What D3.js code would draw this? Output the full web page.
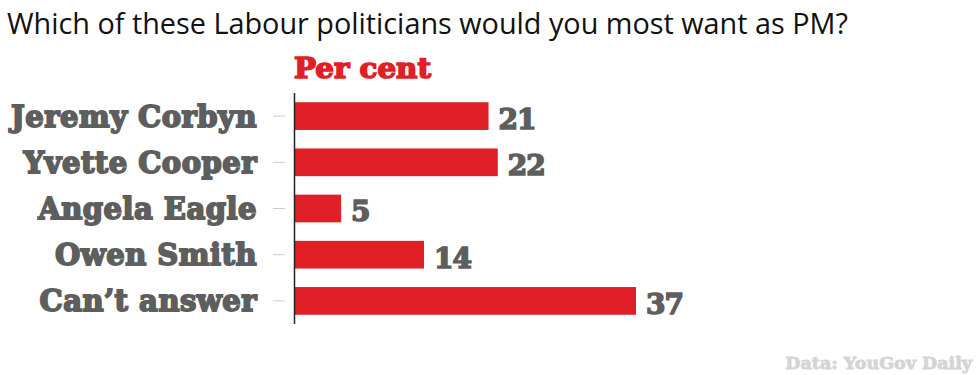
<!DOCTYPE html>
<html>
<head>
<meta charset="utf-8">
<script src="https://cdn.jsdelivr.net/npm/d3@7"></script>
<style>
  body { margin: 0; background: #fff; }
  .slab { font-family: "DejaVu Serif", serif; font-weight: bold; }
</style>
</head>
<body>
<div id="chart"></div>
<script>
var width = 980;
var height = 375;

var names = ["Jeremy Corbyn", "Yvette Cooper", "Angela Eagle", "Owen Smith", "Can\u2019t answer"];
var values = [21, 22, 5, 14, 37];

var red = "#e01f26";
var grey = "#5e5e5e";

var svg = d3.select("#chart")
    .append("svg")
        .attr("width", width)
        .attr("height", height);

// title
svg.append("text")
    .attr("x", 7)
    .attr("y", 34)
    .style("font-family", "'Open Sans', sans-serif")
    .style("font-size", "28.8px")
    .style("fill", "#111")
    .text("Which of these Labour politicians would you most want as PM?");

var xscale = d3.scaleLinear()
    .domain([0, 37])
    .range([295, 636]);
var yscale = d3.scaleBand()
    .domain(names)
    .range([93, 324])
    .paddingInner(0.4)
    .paddingOuter(0.2);

svg.append("text")
    .attr("class", "slab")
    .attr("x", xscale(0) - 1)
    .attr("y", 78)
    .attr("textLength", 137)
    .attr("lengthAdjust", "spacingAndGlyphs")
    .style("font-size", "27px")
    .style("fill", red)
    .style("stroke", red)
    .style("stroke-width", 1.6)
    .text("Per cent");

// bars
svg.selectAll(".bar")
    .data(names)
    .enter().append("rect")
    .attr("class", "bar")
    .attr("x", xscale(0))
    .attr("y", function(d){ return yscale(d); })
    .attr("width", function(d, i){ return xscale(values[i]) - xscale(0); })
    .attr("height", yscale.bandwidth())
    .style("fill", red);

// value labels
svg.selectAll(".val")
    .data(names)
    .enter().append("text")
    .attr("class", "slab val")
    .attr("x", function(d, i){ return xscale(values[i]) + 10; })
    .attr("y", function(d){ return yscale(d) + yscale.bandwidth() - 1; })
    .style("font-size", "28px")
    .style("fill", grey)
    .style("stroke", grey)
    .style("stroke-width", 1.6)
    .style("letter-spacing", "-1px")
    .text(function(d, i){ return values[i]; });

// y axis
var y_axis = d3.axisLeft(yscale).tickSize(12).tickPadding(16);
var gy = svg.append("g")
    .attr("transform", "translate(" + (xscale(0) - 10) + ",0)")
    .call(y_axis);
gy.select(".domain").remove();
gy.selectAll(".tick line").style("stroke", "#ccc");
gy.selectAll(".tick text")
    .attr("class", "slab")
    .attr("dy", "0.36em")
    .style("font-size", "29px")
    .style("fill", grey)
    .style("stroke", grey)
    .style("stroke-width", 1.8)
    .style("letter-spacing", "0.5px");

// axis line
svg.append("line")
    .attr("x1", xscale(0) - 0.5).attr("x2", xscale(0) - 0.5)
    .attr("y1", 93).attr("y2", 324)
    .style("stroke", "#222")
    .style("stroke-width", 1.5);

svg.append("text")
    .attr("class", "slab")
    .attr("x", 972)
    .attr("y", 369)
    .attr("text-anchor", "end")
    .style("font-size", "17.5px")
    .style("fill", "#d4d4d4")
    .style("stroke", "#d4d4d4")
    .style("stroke-width", 0.8)
    .text("Data: YouGov Daily");
</script>
</body>
</html>
